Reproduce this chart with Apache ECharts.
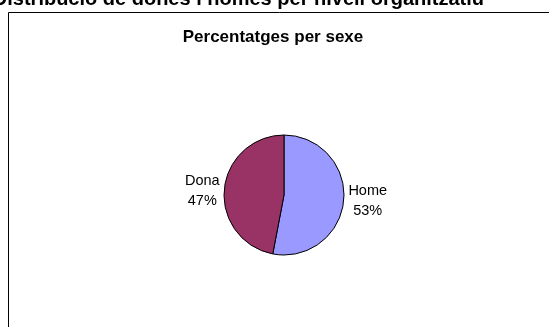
<!DOCTYPE html>
<html>
<head>
<meta charset="utf-8">
<script src="https://cdn.jsdelivr.net/npm/echarts@6/dist/echarts.min.js"></script>
<style>
  html, body { margin: 0; padding: 0; background: #fff; }
  #main { width: 549px; height: 327px; }
</style>
</head>
<body>
<div id="main"></div>
<script>
var categories = ["Home", "Dona"];
var percentages = [53, 47];
var sliceColors = ["#9999FF", "#993366"];

var chart = echarts.init(document.getElementById("main"));

// small nudges so the labels sit where Excel put them
var labelShift = { Home: [-1, 0], Dona: [3, 2] };

var pieData = categories.map(function (name, i) {
  return {
    name: name,
    value: percentages[i],
    itemStyle: { color: sliceColors[i] },
    label: { offset: labelShift[name] }
  };
});

var option = {
  animation: false,
  title: [
    {
      // page heading, cut off by the top edge
      text: "Distribució de dones i homes per nivell organitzatiu",
      right: 60,
      top: -16,
      textStyle: { fontFamily: "Liberation Sans", fontSize: 20, fontWeight: "bold", color: "#000" }
    },
    {
      text: "Percentatges per sexe",
      left: 268,
      textAlign: "center",
      top: 24,
      textStyle: { fontFamily: "Liberation Sans", fontSize: 17, fontWeight: "bold", color: "#000" }
    }
  ],
  graphic: [
    {
      type: "rect",
      shape: { x: 8.5, y: 12.5, width: 600, height: 400 },
      style: { fill: "none", stroke: "#000", lineWidth: 1 },
      z: -1
    }
  ],
  series: [
    {
      type: "pie",
      center: [284, 195],
      radius: 60,
      startAngle: 90,
      clockwise: true,
      data: pieData,
      itemStyle: { borderColor: "#000", borderWidth: 1 },
      label: {
        show: true,
        position: "outside",
        formatter: "{t|{b}}\n{t|{d}%}",
        alignTo: "none",
        rich: {
          t: {
            fontFamily: "Liberation Sans",
            fontSize: 14.5,
            lineHeight: 20,
            color: "#000",
            width: 40,
            align: "center"
          }
        }
      },
      labelLine: { show: false, length: 0, length2: 0 },
      emphasis: { disabled: true }
    }
  ]
};

chart.setOption(option);
</script>
</body>
</html>
